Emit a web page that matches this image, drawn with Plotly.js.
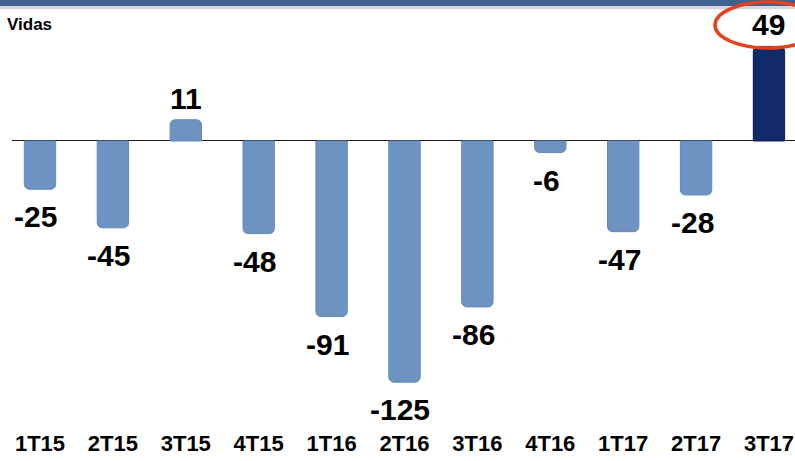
<!DOCTYPE html>
<html>
<head>
<meta charset="utf-8">
<script src="https://cdn.plot.ly/plotly-3.0.1.min.js"></script>
<style>
  html, body { margin: 0; padding: 0; background: #fff; }
  #chart { width: 795px; height: 461px; }
</style>
</head>
<body>
<div id="chart"></div>
<script>
const quarters = ["1T15","2T15","3T15","4T15","1T16","2T16","3T16","4T16","1T17","2T17","3T17"];
const vidas = [-25, -45, 11, -48, -91, -125, -86, -6, -47, -28, 49];
const highlightQuarter = "3T17";
const yLabel = "Vidas";

const baseColor = "#6d93c2";
const highlightColor = "#112a6a";

const colors = quarters.map(q => q === highlightQuarter ? highlightColor : baseColor);
const lineColors = quarters.map(q => q === highlightQuarter ? "#0a1d4d" : "#6388b8");

const trace = {
  type: "bar",
  x: quarters,
  y: vidas,
  width: 0.43,
  marker: { color: colors, line: { color: lineColors, width: 1 }, cornerradius: 5 },
  hoverinfo: "x+y"
};

const valueAnnotations = quarters.map((q, i) => {
  const v = vidas[i];
  const neg = v < 0;
  return {
    x: q, y: v, xref: "x", yref: "y",
    text: String(v),
    showarrow: false,
    yanchor: neg ? "top" : "bottom",
    yshift: neg ? -9 : 3,
    xshift: neg ? -4 : 0,
    font: { family: "Liberation Sans, Arial, sans-serif", size: 30, color: "#000", weight: "bold" }
  };
});

const hiIdx = quarters.indexOf(highlightQuarter);

const layout = {
  width: 795, height: 461,
  margin: { l: 12, r: 0, t: 0, b: 41 },
  paper_bgcolor: "#ffffff",
  plot_bgcolor: "#ffffff",
  showlegend: false,
  xaxis: {
    type: "category",
    range: [-0.384, 10.357],
    showgrid: false, zeroline: false, showline: false,
    ticks: "",
    ticklabelstandoff: 8,
    tickfont: { family: "Liberation Sans, Arial, sans-serif", size: 22, color: "#000", weight: "bold" },
    fixedrange: true
  },
  yaxis: {
    range: [-144.6, 73.06],
    showgrid: false, showticklabels: false, ticks: "",
    zeroline: true, zerolinecolor: "#1a1a1a", zerolinewidth: 1,
    showline: false, fixedrange: true
  },
  shapes: [
    { type: "rect", xref: "paper", yref: "paper", x0: -0.02, x1: 1.01, y0: 0.9855, y1: 1.0,
      fillcolor: "#3f6190", line: { width: 0 } },
    { type: "rect", xref: "paper", yref: "paper", x0: -0.02, x1: 1.01, y0: 0.978, y1: 0.9855,
      fillcolor: "#d4d8de", line: { width: 0 } },
    { type: "circle", xref: "x", yref: "y", x0: hiIdx - 0.741, x1: hiIdx + 0.713, y0: 48.2, y1: 72.0,
      line: { color: "#e4421c", width: 3.5 }, fillcolor: "rgba(0,0,0,0)" }
  ],
  annotations: valueAnnotations.concat([
    { xref: "paper", yref: "paper", x: -0.0095, y: (420 - 24) / 420, xanchor: "left", yanchor: "middle",
      text: yLabel, showarrow: false,
      font: { family: "Liberation Sans, Arial, sans-serif", size: 17, color: "#000", weight: "bold" } }
  ])
};

Plotly.newPlot("chart", [trace], layout, { displayModeBar: false, staticPlot: true });
</script>
</body>
</html>
